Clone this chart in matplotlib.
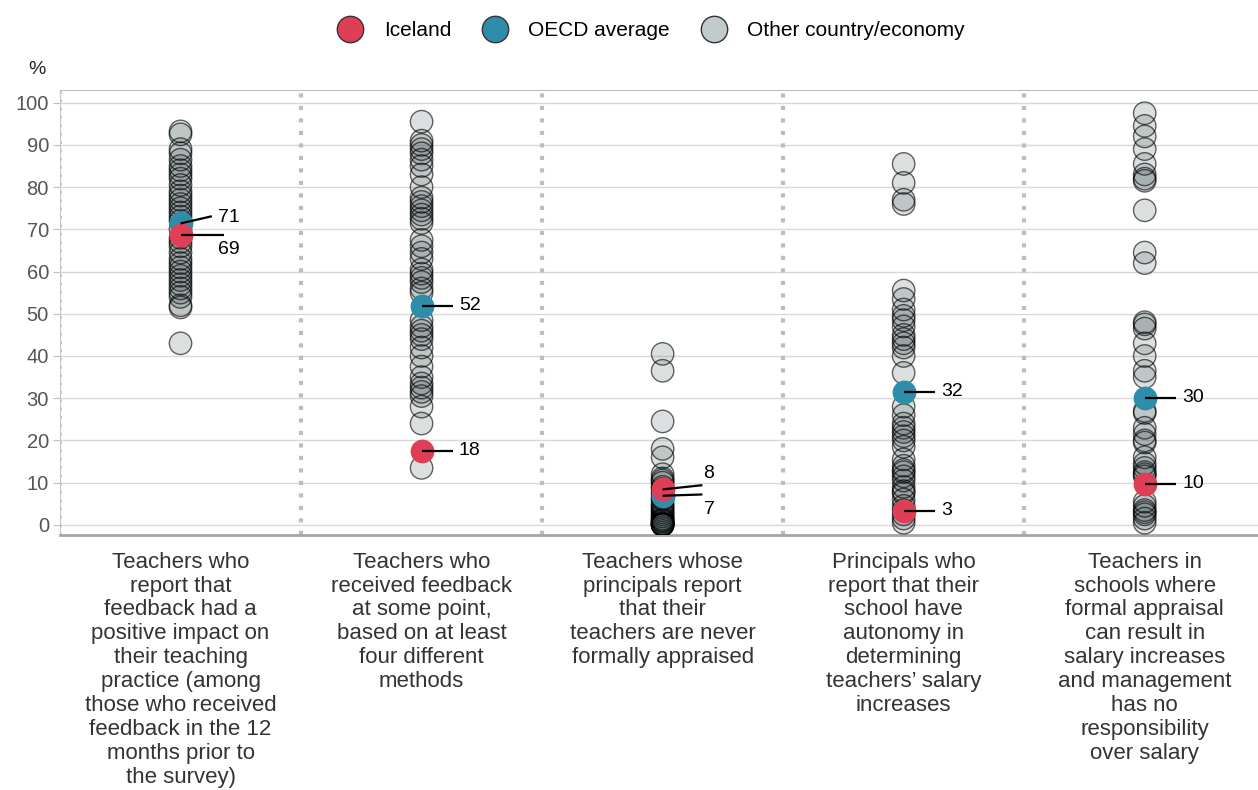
import matplotlib

matplotlib.use("Agg")
import matplotlib.pyplot as plt
from matplotlib.lines import Line2D

plt.rcParams["font.family"] = ["Liberation Sans", "DejaVu Sans"]

categories = [
    "Teachers who\nreport that\nfeedback had a\npositive impact on\ntheir teaching\npractice (among\n"
    "those who received\nfeedback in the 12\nmonths prior to\nthe survey)",
    "Teachers who\nreceived feedback\nat some point,\nbased on at least\nfour different\nmethods",
    "Teachers whose\nprincipals report\nthat their\nteachers are never\nformally appraised",
    "Principals who\nreport that their\nschool have\nautonomy in\ndetermining\nteachers\u2019 salary\nincreases",
    "Teachers in\nschools where\nformal appraisal\ncan result in\nsalary increases\nand management\nhas no\nresponsibility\nover salary",
]

iceland = [68.7, 17.5, 8.4, 3.3, 9.7]
oecd = [71.4, 51.9, 6.9, 31.5, 30.1]

others = [
    [93.2, 92.5, 89, 88, 86.5, 85, 84, 83, 82, 80.5, 79, 78, 77, 76, 75, 74, 73, 72, 70,
     68, 67, 66, 64.5, 63, 62, 61, 60, 59, 58, 57, 56, 55, 54, 52, 51.5, 43],
    [95.5, 91, 90, 89, 88, 86.5, 85, 83, 80, 77.5, 76.5, 75.5, 74.5, 73.5, 72.5, 71.5, 67.5,
     66, 64.5, 63, 60.5, 59.5, 58.5, 57.5, 56, 55, 48.5, 47, 46, 45, 44, 42, 40, 37.5, 35,
     33.5, 32.5, 31.5, 30.5, 28, 24, 13.5],
    [40.5, 36.5, 24.5, 18, 16, 12, 11, 10.5, 10, 9, 8.5, 7.5, 6.5, 6, 5, 4.5, 4, 3.5, 3,
     2.5, 2, 1.5, 1.2, 1, 0.8, 0.5, 0.3, 0.2, 0.1, 0, 0, 0],
    [85.5, 81, 77, 76, 55.5, 53.5, 51, 49.5, 48.5, 47, 45, 44, 43, 42, 40, 36, 28, 26, 24,
     23, 22, 21, 20, 18.5, 15.5, 14, 13, 12.5, 11.5, 10.5, 9, 8, 7.5, 6, 4.5, 3.5, 2.5,
     1.5, 0.5],
    [97.5, 94.5, 92, 89, 85.5, 83, 82, 81.5, 74.5, 64.5, 62, 48, 47.5, 46.5, 43, 40, 36.5,
     35, 27, 26.5, 23, 21.5, 20, 19.5, 16, 14.5, 13.5, 12.5, 12, 11.5, 5.5, 4.5, 3.5, 3,
     2.5, 1.5, 0.5],
]

RED = "#DE3F56"
BLUE = "#2E8EAA"
GREY = "#5F6E6E"
SIZE = 260

# label layout: (line end dx, line end dy, text dx, text dy) for OECD / Iceland
oecd_layout = [(0.13, 1.7, 0.155, 1.3), (0.13, 0, 0.155, 0), (0.165, 0.3, 0.17, -3.3),
               (0.13, 0, 0.155, 0), (0.13, 0, 0.155, 0)]
iceland_layout = [(0.18, 0, 0.155, -3.4), (0.13, 0, 0.155, 0), (0.165, 1.0, 0.17, 3.7),
                  (0.13, 0, 0.155, 0), (0.13, 0, 0.155, 0)]

fig = plt.figure(figsize=(12.58, 7.90), dpi=100)
ax = fig.add_axes([60 / 1258, 1 - 535 / 790, 1 - 60 / 1258, 445 / 790])

for i, vals in enumerate(others):
    ax.scatter([i] * len(vals), vals, s=SIZE, facecolor=GREY, alpha=0.22,
               edgecolor="none", zorder=3)
    ax.scatter([i] * len(vals), vals, s=SIZE, facecolor="none",
               edgecolor=(0, 0, 0, 0.6), linewidth=1, zorder=3)

for i in range(len(categories)):
    ax.scatter(i, oecd[i], s=SIZE, facecolor=BLUE, edgecolor=BLUE, linewidth=1, zorder=4)
    ax.scatter(i, iceland[i], s=SIZE, facecolor=RED, edgecolor=RED, linewidth=1, zorder=5)
    for val, (lx, ly, tx, ty) in ((oecd[i], oecd_layout[i]), (iceland[i], iceland_layout[i])):
        ax.plot([i, i + lx], [val, val + ly], color="black", lw=1.6, zorder=6,
                solid_capstyle="butt")
        ax.text(i + tx, val + ty, f"{round(val):d}", fontsize=14, va="center",
                ha="left", color="black", zorder=6)

for sep in [-0.5, 0.5, 1.5, 2.5, 3.5]:
    ax.axvline(sep, color="#BDBDBD", lw=3 if sep > 0 else 2,
               linestyle=(0, (1, 2)), zorder=1)

ax.set_xlim(-0.5, 4.47)
ax.set_ylim(-2.4, 103)
ax.set_yticks(range(0, 101, 10))
ax.set_xticks(range(len(categories)))
ax.set_xticklabels(categories, fontsize=16, color="#333333", linespacing=1.18)
ax.tick_params(axis="x", length=0, pad=12)
ax.tick_params(axis="y", length=5, color="#BFBFBF", labelsize=14.5, labelcolor="#555555", pad=3)
ax.yaxis.grid(True, color="#D9D9D9", lw=1, zorder=0)
ax.set_axisbelow(True)

ax.spines["right"].set_visible(False)
ax.spines["top"].set_color("#C0C0C0")
ax.spines["left"].set_color("#C8C8C8")
ax.spines["bottom"].set_color("#A6A6A6")
ax.spines["bottom"].set_linewidth(2)

fig.text(37 / 1258, 1 - 70 / 790, "%", fontsize=14, color="#222222", ha="center", va="center")

handles = [
    Line2D([], [], marker="o", ls="", markersize=19, markerfacecolor=RED,
           markeredgecolor="#333333", markeredgewidth=1),
    Line2D([], [], marker="o", ls="", markersize=19, markerfacecolor=BLUE,
           markeredgecolor="#333333", markeredgewidth=1),
    Line2D([], [], marker="o", ls="", markersize=19, markerfacecolor="#C2CBCB",
           markeredgecolor="#333333", markeredgewidth=1),
]
fig.legend(handles, ["Iceland", "OECD average", "Other country/economy"], loc="center",
           bbox_to_anchor=(647 / 1258, 1 - 31 / 790), ncol=3, frameon=False,
           fontsize=15, handletextpad=0.6, columnspacing=1.1)

fig.savefig("out.png", dpi=100)
